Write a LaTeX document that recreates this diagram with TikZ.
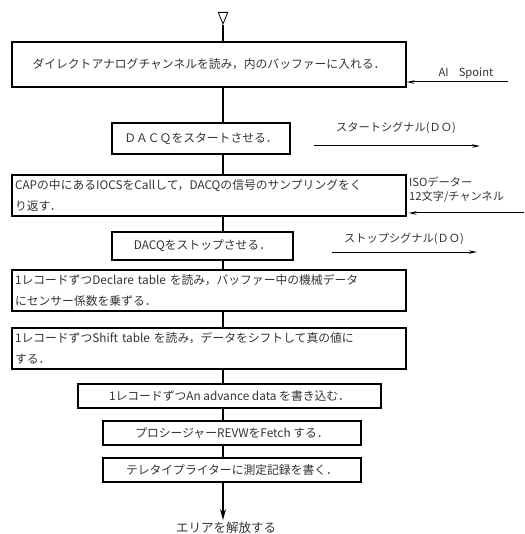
\documentclass[tikz,border=0pt]{standalone}
\usepackage{fontspec}
\setmainfont{Noto Sans CJK JP}
\usetikzlibrary{arrows.meta,shapes.geometric}
\tikzset{
  flowbox/.style={draw=black,line width=1.1pt,inner sep=0pt,font=\fontsize{11.8pt}{21pt}\selectfont,text=black!80},
  vline/.style={draw=black,line width=1.2pt},
  sigarrow/.style={draw=black,line width=1pt},
  sigtext/.style={font=\fontsize{11.2pt}{14pt}\selectfont,inner sep=0pt,text=black!80}}
\begin{document}
\begin{tikzpicture}[x=1pt,y=1pt]
\useasboundingbox (0,0) rectangle (524,-534);
\coordinate (ax) at (223,0);
\node[draw,line width=0.8pt,isosceles triangle,shape border rotate=-90,minimum size=0pt,inner sep=2.6pt] (tri) at (223,-15) {};
% boxes
\node[flowbox,minimum width=394pt,minimum height=45pt] (b1) at (209,-64.5) {ダイレクトアナログチャンネルを読み，内のバッファーに入れる．};
\node[flowbox,minimum width=178pt,minimum height=31pt] (b2) at (201,-138.5) {ＤＡＣＱをスタートさせる．};
\node[flowbox,minimum width=394pt,minimum height=41pt,text width=388pt,align=left] (b3) at (209,-195.5) {CAPの中にあるIOCSをCallして，DACQの信号のサンプリングをく\\り返す．};
\node[flowbox,minimum width=181pt,minimum height=28pt] (b4) at (202.5,-246) {DACQをストップさせる．};
\node[flowbox,minimum width=394pt,minimum height=41pt,text width=388pt,align=left] (b5) at (209,-290.5) {1レコードずつDeclare table を読み，バッファー中の機械データ\\にセンサー係数を乗ずる．};
\node[flowbox,minimum width=394pt,minimum height=41pt,text width=388pt,align=left] (b6) at (209,-348.5) {1レコードずつShift table を読み，データをシフトして真の値に\\する．};
\node[flowbox,minimum width=303pt,minimum height=24pt] (b7) at (229.5,-396) {1レコードずつAn advance data を書き込む．};
\node[flowbox,minimum width=258pt,minimum height=24pt] (b8) at (232,-433) {プロシージャーREVWをFetch する．};
\node[flowbox,minimum width=258pt,minimum height=24pt] (b9) at (232,-470) {テレタイプライターに測定記録を書く．};
\node[sigtext,font=\fontsize{12.5pt}{14pt}\selectfont] (end) at (226,-528) {エリアを解放する};
% connectors
\draw[vline] (tri.south) -- (b1.north -| ax);
\draw[vline] (b1.south -| ax) -- (b2.north -| ax);
\draw[vline] (b2.south -| ax) -- (b3.north -| ax);
\draw[vline] (b3.south -| ax) -- (b4.north -| ax);
\draw[vline] (b4.south -| ax) -- (b5.north -| ax);
\draw[vline] (b5.south -| ax) -- (b6.north -| ax);
\draw[vline] (b6.south -| ax) -- (b7.north -| ax);
\draw[vline] (b7.south -| ax) -- (b8.north -| ax);
\draw[vline] (b8.south -| ax) -- (b9.north -| ax);
\draw[vline,-{Stealth[length=11pt,width=6pt]}] (b9.south -| ax) -- ([yshift=2pt]end.north -| ax);
% side signals
\coordinate (s1) at (508,-82);
\draw[sigarrow,-{Stealth[length=8pt,width=3.5pt]}] (s1) -- (b1.east |- s1);
\node[sigtext] (l1) at (466,-73) {AI\hspace{0.9em}Spoint};
\coordinate (s2a) at (314,-146);
\coordinate (s2b) at (480,-146);
\draw[sigarrow,-{Stealth[length=8pt,width=3.5pt]}] (s2a) -- (s2b);
\node[sigtext] (l2) at (396,-128) {スタートシグナル(ＤＯ)};
\coordinate (s3) at (524,-213);
\draw[sigarrow,-{Stealth[length=8pt,width=3.5pt]}] (s3) -- ([xshift=2pt]b3.east |- s3);
\node[sigtext,anchor=west,align=left] (l3) at (409,-190) {ISOデーター\\12文字/チャンネル};
\coordinate (s4a) at (332,-252);
\coordinate (s4b) at (477,-252);
\draw[sigarrow,-{Stealth[length=8pt,width=3.5pt]}] (s4a) -- (s4b);
\node[sigtext] (l4) at (404,-239) {ストップシグナル(ＤＯ)};
\end{tikzpicture}
\end{document}
